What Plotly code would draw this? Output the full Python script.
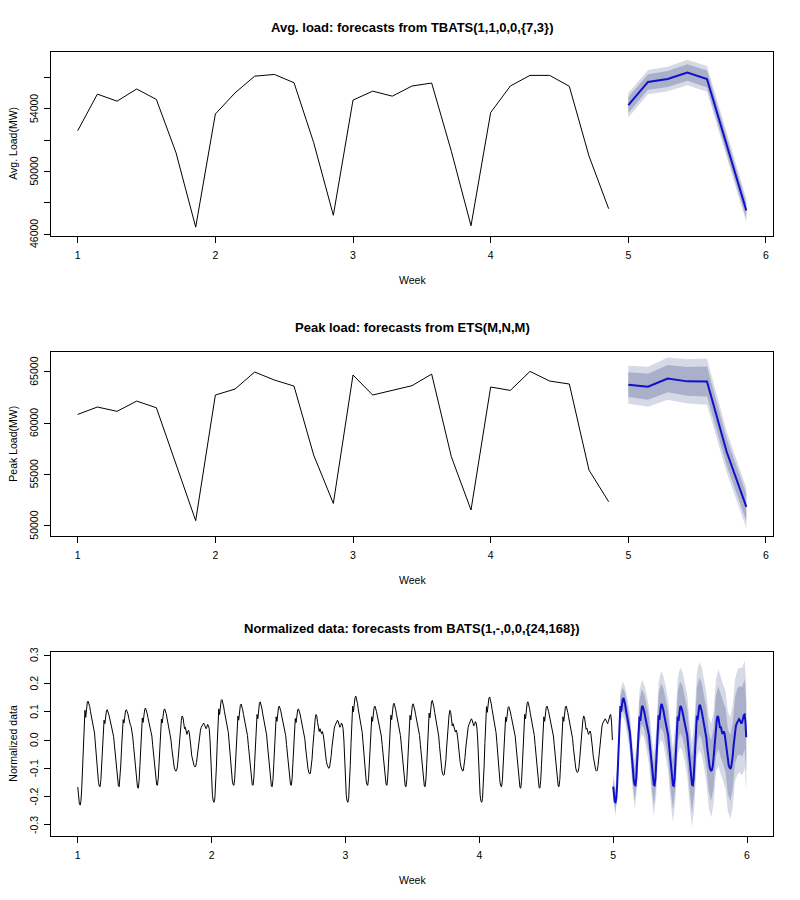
import plotly.graph_objects as go

# ---------------- Panel 1: average load (daily, 4 weeks history + 7 day forecast)
avg_hist = [52610, 54950, 54500, 55280, 54610, 51200, 46440,
            53680, 55030, 56100, 56210, 55680, 51850, 47200,
            54570, 55140, 54820, 55470, 55660, 51300, 46530,
            53770, 55470, 56150, 56150, 55450, 50990, 47620]
avg_fc_mean = [54250, 55730, 55920, 56330, 55920, 51750, 47500]
avg_fc_hi95 = [55030, 56500, 56700, 57150, 56750, 52580, 48250]
avg_fc_lo95 = [53450, 54950, 55130, 55520, 55100, 50920, 46750]
avg_fc_hi80 = [54760, 56230, 56430, 56860, 56460, 52300, 48000]
avg_fc_lo80 = [53740, 55230, 55410, 55800, 55380, 51200, 47000]

# ---------------- Panel 2: peak load
peak_hist = [60840, 61560, 61140, 62140, 61490, 56070, 50490,
             62730, 63310, 64970, 64190, 63600, 56880, 52170,
             64680, 62730, 63210, 63640, 64770, 56720, 51530,
             63510, 63180, 65030, 64090, 63800, 55420, 52340]
peak_fc_mean = [63740, 63540, 64330, 64060, 64040, 57200, 51840]
peak_fc_hi95 = [65590, 65490, 66380, 66210, 66290, 59200, 53700]
peak_fc_lo95 = [61890, 61590, 62280, 61910, 61790, 55200, 49800]
peak_fc_hi80 = [64940, 64810, 65660, 65460, 65500, 58500, 53100]
peak_fc_lo80 = [62540, 62270, 63000, 62660, 62580, 55900, 50450]

# ---------------- Panel 3: normalized hourly data (one row per day)
norm_week1 = [
    [-0.166, -0.2, -0.225, -0.23, -0.215, -0.17, -0.1, -0.02, 0.06, 0.105, 0.08, 0.12, 0.135, 0.137, 0.128, 0.118, 0.1, 0.085, 0.072, 0.065, 0.05, 0.025, -0.01, -0.05],
    [-0.09, -0.125, -0.15, -0.163, -0.165, -0.14, -0.085, -0.025, 0.035, 0.07, 0.058, 0.09, 0.103, 0.107, 0.1, 0.09, 0.078, 0.064, 0.055, 0.048, 0.035, 0.012, -0.018, -0.05],
    [-0.085, -0.12, -0.148, -0.162, -0.165, -0.138, -0.088, -0.028, 0.032, 0.072, 0.06, 0.088, 0.104, 0.107, 0.102, 0.092, 0.077, 0.062, 0.054, 0.047, 0.033, 0.01, -0.02, -0.052],
    [-0.09, -0.127, -0.155, -0.168, -0.17, -0.143, -0.09, -0.03, 0.035, 0.078, 0.062, 0.095, 0.108, 0.113, 0.106, 0.095, 0.08, 0.066, 0.056, 0.05, 0.036, 0.014, -0.017, -0.05],
    [-0.085, -0.12, -0.145, -0.158, -0.16, -0.135, -0.085, -0.025, 0.03, 0.074, 0.06, 0.092, 0.105, 0.11, 0.104, 0.093, 0.078, 0.062, 0.05, 0.04, 0.025, 0.0, -0.03, -0.06],
    [-0.08, -0.095, -0.105, -0.11, -0.108, -0.095, -0.065, -0.025, 0.015, 0.05, 0.07, 0.085, 0.08, 0.06, 0.04, 0.045, 0.03, 0.02, 0.03, 0.035, 0.025, 0.005, -0.025, -0.055],
    [-0.07, -0.082, -0.09, -0.095, -0.093, -0.08, -0.055, -0.025, 0.0, 0.02, 0.035, 0.045, 0.05, 0.055, 0.06, 0.055, 0.045, 0.04, 0.045, 0.055, 0.05, 0.04, 0.0, -0.08],
]
norm_week2 = [
    [-0.16, -0.195, -0.215, -0.22, -0.208, -0.165, -0.095, -0.015, 0.065, 0.11, 0.09, 0.125, 0.14, 0.143, 0.133, 0.12, 0.102, 0.086, 0.074, 0.066, 0.05, 0.026, -0.008, -0.045],
    [-0.085, -0.12, -0.145, -0.158, -0.16, -0.135, -0.082, -0.02, 0.04, 0.085, 0.07, 0.108, 0.122, 0.127, 0.12, 0.107, 0.09, 0.075, 0.064, 0.056, 0.04, 0.016, -0.015, -0.048],
    [-0.085, -0.12, -0.146, -0.158, -0.16, -0.134, -0.08, -0.018, 0.045, 0.09, 0.075, 0.115, 0.13, 0.135, 0.127, 0.113, 0.095, 0.078, 0.066, 0.058, 0.042, 0.018, -0.014, -0.048],
    [-0.088, -0.124, -0.15, -0.163, -0.165, -0.14, -0.086, -0.024, 0.038, 0.082, 0.066, 0.102, 0.116, 0.12, 0.113, 0.1, 0.085, 0.07, 0.06, 0.053, 0.038, 0.015, -0.016, -0.05],
    [-0.086, -0.12, -0.146, -0.158, -0.16, -0.136, -0.084, -0.024, 0.034, 0.076, 0.062, 0.094, 0.106, 0.11, 0.103, 0.092, 0.077, 0.062, 0.05, 0.042, 0.028, 0.004, -0.028, -0.06],
    [-0.085, -0.102, -0.114, -0.12, -0.117, -0.1, -0.068, -0.026, 0.018, 0.055, 0.075, 0.09, 0.084, 0.062, 0.035, 0.03, 0.04, 0.028, 0.022, 0.03, 0.02, 0.0, -0.03, -0.06],
    [-0.075, -0.088, -0.096, -0.1, -0.097, -0.083, -0.058, -0.026, 0.005, 0.028, 0.042, 0.052, 0.058, 0.065, 0.07, 0.064, 0.052, 0.045, 0.05, 0.06, 0.055, 0.04, 0.0, -0.08],
]
norm_week3 = [
    [-0.16, -0.195, -0.215, -0.22, -0.207, -0.162, -0.09, -0.01, 0.07, 0.12, 0.1, 0.135, 0.15, 0.155, 0.145, 0.13, 0.11, 0.092, 0.078, 0.068, 0.052, 0.027, -0.008, -0.045],
    [-0.085, -0.12, -0.145, -0.158, -0.16, -0.135, -0.083, -0.022, 0.038, 0.082, 0.066, 0.102, 0.116, 0.12, 0.113, 0.1, 0.085, 0.07, 0.06, 0.053, 0.038, 0.014, -0.016, -0.05],
    [-0.086, -0.12, -0.146, -0.158, -0.16, -0.134, -0.081, -0.02, 0.042, 0.088, 0.072, 0.11, 0.125, 0.13, 0.122, 0.108, 0.091, 0.075, 0.064, 0.056, 0.04, 0.016, -0.015, -0.05],
    [-0.088, -0.124, -0.15, -0.163, -0.165, -0.139, -0.085, -0.022, 0.041, 0.087, 0.071, 0.108, 0.123, 0.128, 0.12, 0.106, 0.09, 0.074, 0.063, 0.055, 0.04, 0.016, -0.016, -0.05],
    [-0.088, -0.124, -0.15, -0.163, -0.165, -0.138, -0.083, -0.018, 0.046, 0.095, 0.078, 0.118, 0.135, 0.14, 0.131, 0.116, 0.097, 0.08, 0.066, 0.056, 0.04, 0.014, -0.02, -0.055],
    [-0.088, -0.107, -0.12, -0.125, -0.122, -0.104, -0.07, -0.025, 0.022, 0.065, 0.088, 0.105, 0.098, 0.075, 0.05, 0.058, 0.045, 0.032, 0.028, 0.035, 0.025, 0.003, -0.03, -0.062],
    [-0.08, -0.095, -0.105, -0.11, -0.107, -0.09, -0.062, -0.028, 0.005, 0.03, 0.045, 0.055, 0.062, 0.068, 0.075, 0.07, 0.058, 0.05, 0.055, 0.065, 0.06, 0.042, 0.0, -0.08],
]
norm_week4 = [
    [-0.16, -0.195, -0.215, -0.22, -0.207, -0.163, -0.092, -0.012, 0.068, 0.118, 0.098, 0.133, 0.148, 0.152, 0.142, 0.128, 0.108, 0.09, 0.077, 0.067, 0.051, 0.026, -0.008, -0.046],
    [-0.088, -0.124, -0.15, -0.163, -0.165, -0.14, -0.086, -0.024, 0.038, 0.081, 0.065, 0.1, 0.114, 0.118, 0.111, 0.099, 0.084, 0.069, 0.059, 0.052, 0.037, 0.014, -0.017, -0.05],
    [-0.09, -0.127, -0.155, -0.168, -0.17, -0.143, -0.088, -0.022, 0.044, 0.091, 0.075, 0.115, 0.13, 0.135, 0.127, 0.112, 0.094, 0.078, 0.066, 0.058, 0.042, 0.016, -0.016, -0.052],
    [-0.09, -0.127, -0.155, -0.168, -0.17, -0.144, -0.089, -0.026, 0.038, 0.082, 0.066, 0.102, 0.116, 0.12, 0.113, 0.1, 0.085, 0.07, 0.06, 0.053, 0.038, 0.014, -0.017, -0.05],
    [-0.088, -0.124, -0.15, -0.163, -0.165, -0.14, -0.086, -0.024, 0.038, 0.082, 0.066, 0.102, 0.116, 0.12, 0.112, 0.098, 0.082, 0.066, 0.054, 0.045, 0.03, 0.006, -0.026, -0.058],
    [-0.082, -0.099, -0.11, -0.115, -0.112, -0.097, -0.066, -0.025, 0.016, 0.052, 0.072, 0.085, 0.08, 0.06, 0.038, 0.042, 0.03, 0.02, 0.026, 0.032, 0.022, 0.002, -0.028, -0.058],
    [-0.08, -0.095, -0.105, -0.11, -0.107, -0.09, -0.06, -0.025, 0.01, 0.035, 0.05, 0.06, 0.066, 0.072, 0.075, 0.07, 0.062, 0.058, 0.065, 0.078, 0.088, 0.09, 0.06, 0.0],
]
norm_fc = [
    [-0.165, -0.2, -0.218, -0.22, -0.205, -0.16, -0.09, -0.01, 0.07, 0.12, 0.1, 0.13, 0.145, 0.148, 0.14, 0.126, 0.107, 0.09, 0.077, 0.067, 0.051, 0.026, -0.008, -0.046],
    [-0.086, -0.12, -0.146, -0.158, -0.16, -0.135, -0.082, -0.02, 0.04, 0.083, 0.068, 0.104, 0.117, 0.12, 0.113, 0.1, 0.085, 0.07, 0.06, 0.053, 0.038, 0.015, -0.016, -0.05],
    [-0.086, -0.12, -0.146, -0.158, -0.16, -0.135, -0.081, -0.02, 0.042, 0.087, 0.071, 0.108, 0.122, 0.127, 0.119, 0.105, 0.089, 0.073, 0.062, 0.055, 0.04, 0.016, -0.015, -0.05],
    [-0.087, -0.122, -0.148, -0.16, -0.162, -0.137, -0.083, -0.022, 0.04, 0.083, 0.068, 0.103, 0.116, 0.12, 0.113, 0.1, 0.085, 0.07, 0.06, 0.053, 0.038, 0.015, -0.016, -0.05],
    [-0.086, -0.12, -0.146, -0.158, -0.16, -0.135, -0.082, -0.021, 0.041, 0.086, 0.07, 0.106, 0.12, 0.125, 0.117, 0.103, 0.087, 0.07, 0.057, 0.048, 0.032, 0.007, -0.025, -0.057],
    [-0.078, -0.094, -0.104, -0.108, -0.106, -0.092, -0.063, -0.024, 0.015, 0.05, 0.07, 0.085, 0.08, 0.062, 0.042, 0.048, 0.035, 0.022, 0.025, 0.03, 0.02, 0.0, -0.03, -0.058],
    [-0.076, -0.089, -0.097, -0.1, -0.098, -0.084, -0.057, -0.023, 0.01, 0.035, 0.05, 0.058, 0.064, 0.07, 0.074, 0.07, 0.062, 0.058, 0.065, 0.078, 0.088, 0.09, 0.065, 0.01],
]
# forecast interval half-widths, sampled every 3 hours (hours 0,3,...,165) plus hour 167
norm_band_hours = list(range(0, 168, 3)) + [167]
norm_hw95 = [0.045, 0.05, 0.055, 0.055, 0.06, 0.062, 0.065, 0.07,
             0.08, 0.085, 0.09, 0.09, 0.095, 0.095, 0.1, 0.1,
             0.105, 0.11, 0.115, 0.115, 0.12, 0.12, 0.125, 0.125,
             0.13, 0.13, 0.135, 0.135, 0.14, 0.14, 0.14, 0.145,
             0.145, 0.15, 0.15, 0.15, 0.155, 0.155, 0.155, 0.16,
             0.16, 0.165, 0.165, 0.165, 0.17, 0.17, 0.17, 0.175,
             0.175, 0.18, 0.18, 0.18, 0.185, 0.185, 0.19, 0.19, 0.19]
norm_hw80 = [0.03, 0.033, 0.036, 0.036, 0.039, 0.04, 0.042, 0.045,
             0.052, 0.055, 0.058, 0.058, 0.062, 0.062, 0.065, 0.065,
             0.068, 0.072, 0.075, 0.075, 0.078, 0.078, 0.081, 0.081,
             0.085, 0.085, 0.088, 0.088, 0.091, 0.091, 0.091, 0.094,
             0.094, 0.098, 0.098, 0.098, 0.1, 0.1, 0.1, 0.104,
             0.104, 0.107, 0.107, 0.107, 0.11, 0.11, 0.11, 0.114,
             0.114, 0.117, 0.117, 0.117, 0.12, 0.12, 0.123, 0.123, 0.123]

# tick values / labels
week_ticks = [1, 2, 3, 4, 5, 6]
avg_ticks = [46000, 48000, 50000, 52000, 54000, 56000]
avg_ticktext = ["46000", "", "50000", "", "54000", ""]
peak_ticks = [50000, 55000, 60000, 65000]
peak_ticktext = ["50000", "55000", "60000", "65000"]
norm_ticks = [-0.3, -0.2, -0.1, 0.0, 0.1, 0.2, 0.3]
norm_ticktext = ["-0.3", "-0.2", "-0.1", "0.0", "0.1", "0.2", "0.3"]

# ---------------- styling constants
BLACK = "#000000"
FC_BLUE = "#1010CC"
SHADE95 = "#D6D9E6"
SHADE80 = "#AAB0CA"
FONT = "Liberation Sans, Arial, sans-serif"

OFF = 8                      # page body margin in the browser
W, H = 800 - OFF, 900 - OFF  # figure size so that it fits the window
BOX_L, BOX_R = 51, 773       # target page coordinates of plot boxes
L, R = BOX_L - OFF, W - (BOX_R - OFF)
PANEL_TOPS = [51.7, 351.7, 651.7]   # page coordinates
PANEL_H = 184.0


def py(page_y):
    return 1 - (page_y - OFF) / H


def ydom(top):
    return [py(top + PANEL_H), py(top)]


def px(page_x):
    return (page_x - OFF - L) / (W - L - R)


hist_daily_t = [1 + i / 7 for i in range(len(avg_hist))]
fc_daily_t = [5 + i / 7 for i in range(len(avg_fc_mean))]

norm_hist = [v for wk in (norm_week1, norm_week2, norm_week3, norm_week4) for day in wk for v in day]
norm_fc_flat = [v for day in norm_fc for v in day]
hist_hourly_t = [1 + h / 168 for h in range(len(norm_hist))]
fc_hourly_t = [5 + h / 168 for h in range(len(norm_fc_flat))]

fig = go.Figure()


def band(xs, lo, hi, color, xa, ya):
    fig.add_trace(go.Scatter(
        x=list(xs) + list(xs)[::-1], y=list(hi) + list(lo)[::-1],
        fill="toself", fillcolor=color, line=dict(width=0), mode="lines",
        hoverinfo="skip", showlegend=False, xaxis=xa, yaxis=ya))


def line(xs, ys, color, width, xa, ya):
    fig.add_trace(go.Scatter(x=xs, y=ys, mode="lines",
                             line=dict(color=color, width=width),
                             showlegend=False, xaxis=xa, yaxis=ya))


# panel 1
line(hist_daily_t, avg_hist, BLACK, 1, "x", "y")
band(fc_daily_t, avg_fc_lo95, avg_fc_hi95, SHADE95, "x", "y")
band(fc_daily_t, avg_fc_lo80, avg_fc_hi80, SHADE80, "x", "y")
line(fc_daily_t, avg_fc_mean, FC_BLUE, 2, "x", "y")

# panel 2
line(hist_daily_t, peak_hist, BLACK, 1, "x2", "y2")
band(fc_daily_t, peak_fc_lo95, peak_fc_hi95, SHADE95, "x2", "y2")
band(fc_daily_t, peak_fc_lo80, peak_fc_hi80, SHADE80, "x2", "y2")
line(fc_daily_t, peak_fc_mean, FC_BLUE, 2, "x2", "y2")

# panel 3
band_t = [5 + h / 168 for h in norm_band_hours]
band_mean = [norm_fc_flat[h] for h in norm_band_hours]
lo95 = [m - w for m, w in zip(band_mean, norm_hw95)]
hi95 = [m + w for m, w in zip(band_mean, norm_hw95)]
lo80 = [m - w for m, w in zip(band_mean, norm_hw80)]
hi80 = [m + w for m, w in zip(band_mean, norm_hw80)]
line(hist_hourly_t, norm_hist, BLACK, 1, "x3", "y3")
band(band_t, lo95, hi95, SHADE95, "x3", "y3")
band(band_t, lo80, hi80, SHADE80, "x3", "y3")
line(fc_hourly_t, norm_fc_flat, FC_BLUE, 2, "x3", "y3")

TICK_SIZE = 10.5
tick_font = dict(family=FONT, size=TICK_SIZE, color=BLACK)
xcommon = dict(showline=True, mirror=True, linecolor=BLACK, linewidth=1,
               showgrid=False, zeroline=False, ticks="outside", ticklen=6,
               tickcolor=BLACK, tickwidth=1, tickfont=tick_font,
               tickvals=week_ticks, ticktext=[str(v) for v in week_ticks],
               ticklabelstandoff=4, automargin=False, domain=[0, 1])
ycommon = dict(showline=True, mirror=True, linecolor=BLACK, linewidth=1,
               showgrid=False, zeroline=False, ticks="outside", ticklen=6,
               tickcolor=BLACK, tickwidth=1, showticklabels=False,
               automargin=False)

fig.update_layout(
    width=W, height=H, margin=dict(l=L, r=R, t=0, b=0),
    paper_bgcolor="white", plot_bgcolor="white", showlegend=False,
    font=dict(family=FONT, color=BLACK),
    xaxis=dict(xcommon, anchor="y", range=[0.806, 6.051]),
    xaxis2=dict(xcommon, anchor="y2", range=[0.806, 6.051]),
    xaxis3=dict(xcommon, anchor="y3", range=[0.8, 6.194]),
    yaxis=dict(ycommon, anchor="x", domain=ydom(PANEL_TOPS[0]), range=[45893, 57665],
               tickvals=avg_ticks),
    yaxis2=dict(ycommon, anchor="x2", domain=ydom(PANEL_TOPS[1]), range=[49025, 66950],
                tickvals=peak_ticks),
    yaxis3=dict(ycommon, anchor="x3", domain=ydom(PANEL_TOPS[2]), range=[-0.338, 0.312],
                tickvals=norm_ticks),
)

# rotated y tick labels (R style: parallel to the axis)
for yref, vals, texts in (("y", avg_ticks, avg_ticktext),
                          ("y2", peak_ticks, peak_ticktext),
                          ("y3", norm_ticks, norm_ticktext)):
    for v, t in zip(vals, texts):
        if not t:
            continue
        fig.add_annotation(text=t, xref="paper", yref=yref, x=px(34), y=v,
                           textangle=-90, showarrow=False, xanchor="center",
                           yanchor="middle", font=tick_font)

titles = ["Avg. load: forecasts from TBATS(1,1,0,0,{7,3})",
          "Peak load: forecasts from ETS(M,N,M)",
          "Normalized data: forecasts from BATS(1,-,0,0,{24,168})"]
ytitles = ["Avg. Load(MW)", "Peak Load(MW)", "Normalized data"]
xmid = px((BOX_L + BOX_R) / 2)
for k in range(3):
    off = 300 * k
    fig.add_annotation(text="<b>%s</b>" % titles[k], xref="paper", yref="paper",
                       x=xmid, y=py(28 + off), showarrow=False, xanchor="center", yanchor="middle",
                       font=dict(family=FONT, size=13, color=BLACK))
    fig.add_annotation(text="Week", xref="paper", yref="paper",
                       x=xmid, y=py(280 + off), showarrow=False, xanchor="center", yanchor="middle",
                       font=dict(family=FONT, size=TICK_SIZE, color=BLACK))
    fig.add_annotation(text=ytitles[k], xref="paper", yref="paper", textangle=-90,
                       x=px(13), y=py(PANEL_TOPS[k] + PANEL_H / 2),
                       showarrow=False, xanchor="center", yanchor="middle",
                       font=dict(family=FONT, size=TICK_SIZE, color=BLACK))

fig.write_html("out.html")
